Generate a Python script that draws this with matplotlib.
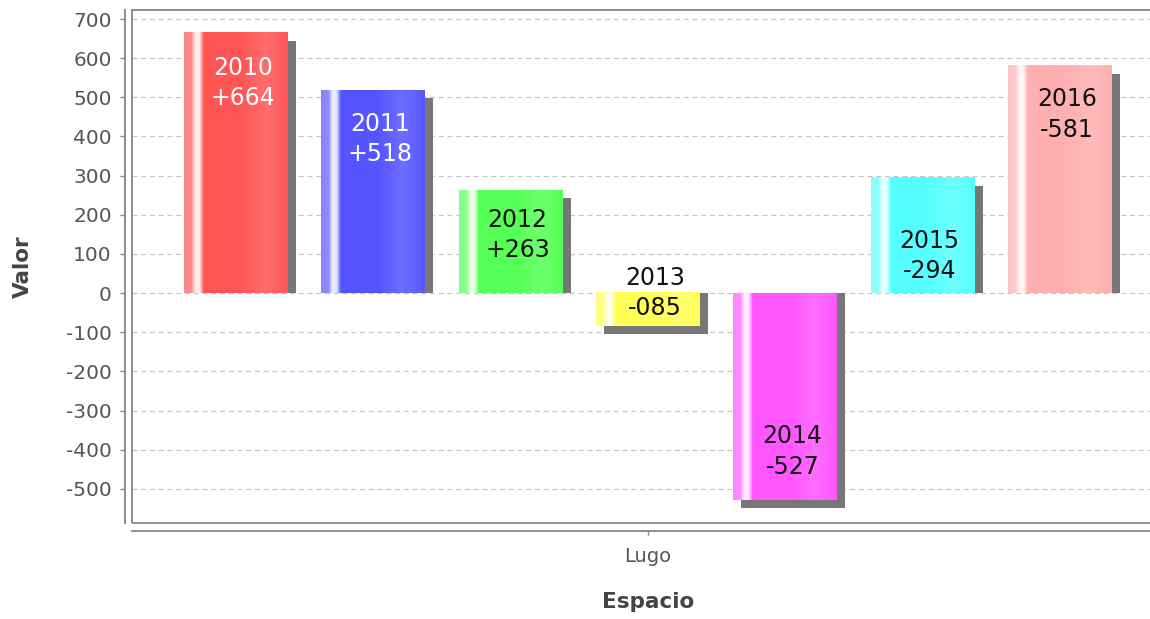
import numpy as np
import matplotlib
matplotlib.use("Agg")
import matplotlib.pyplot as plt
from matplotlib.colors import to_rgb
from matplotlib.patches import Rectangle
from matplotlib.transforms import ScaledTranslation

# ---------------- data ----------------
years = ["2010", "2011", "2012", "2013", "2014", "2015", "2016"]
values = [664, 518, 263, -85, -527, 294, 581]
value_labels = ["+664", "+518", "+263", "-085", "-527", "-294", "-581"]
category = "Lugo"
y_ticks = [-500, -400, -300, -200, -100, 0, 100, 200, 300, 400, 500, 600, 700]

# ---------------- style ----------------
bar_colors = ["#FF5555", "#5555FF", "#55FF55", "#FFFF55", "#FF55FF", "#55FFFF", "#FFAFAF"]
label_colors = ["white", "white", "#111111", "#111111", "#111111", "#111111", "#111111"]
label_inset_px = [50, 49, 45, None, 48, 78, 49]   # None -> centred on the base line

plt.rcParams["axes.unicode_minus"] = False
DPI = 100
W, H = 1150, 619
fig = plt.figure(figsize=(W / DPI, H / DPI), dpi=DPI)


def px_axes(l, t, r, b):
    return [l / W, 1 - b / H, (r - l) / W, (b - t) / H]


ax = fig.add_axes(px_axes(132, 10, 1164, 523))
n = len(values)
bar_w = 0.756
ax.set_xlim(-bar_w, n - 1 + bar_w)
ax.set_ylim(-587, 723)

# pixel -> data conversion for the shadow offset
y0, y1 = ax.get_ylim()
px_per_unit = ax.bbox.height / (y1 - y0)
shadow_px = 8
dy = shadow_px / px_per_unit
shadow_tr = ax.transData + ScaledTranslation(shadow_px / DPI, 0, fig.dpi_scale_trans)

# horizontal gradient profile (fraction of white mixed in)
stops_t = [0.0, 0.07, 0.11, 0.15, 0.19, 0.55, 0.78, 0.90, 1.0]
stops_w = [0.28, 0.32, 0.90, 0.85, 0.0, 0.0, 0.14, 0.08, 0.0]
tt = np.linspace(0, 1, 300)
wmix = np.interp(tt, stops_t, stops_w)[:, None]

for i, (v, c) in enumerate(zip(values, bar_colors)):
    x0 = i - bar_w / 2
    # shadow, pegged to the base
    if v >= 0:
        sy, sh = 0, v - dy
    else:
        sy, sh = v - dy, -(v - dy)
    ax.add_patch(Rectangle((x0, sy), bar_w, sh, transform=shadow_tr,
                           facecolor="#777777", edgecolor="none", zorder=2))
    rgb = np.array(to_rgb(c))
    img = (rgb[None, :] * (1 - wmix) + wmix)[None, :, :]
    ax.imshow(img, extent=[x0, x0 + bar_w, min(0, v), max(0, v)],
              aspect="auto", interpolation="bilinear", origin="lower", zorder=3)

ax.set_xlim(-bar_w, n - 1 + bar_w)
ax.set_ylim(-587, 723)

# labels
for i, (yr, v, lab, lc, inset) in enumerate(zip(years, values, value_labels,
                                                label_colors, label_inset_px)):
    if inset is None:
        yy, off = 0, 0
    else:
        yy, off = v, (-inset if v > 0 else inset)
    ax.annotate(f"{yr}\n{lab}", xy=(i, yy), xytext=(7 * 72 / DPI, off * 72 / DPI),
                textcoords="offset points", ha="center", va="center",
                fontsize=17, color=lc, linespacing=1.33, zorder=5,
                family="DejaVu Sans")

# axes styling
axis_col = "#858585"
for s in ["top", "right"]:
    ax.spines[s].set_visible(False)
ax.spines["left"].set_position(("outward", 7 * 72 / DPI))
ax.spines["bottom"].set_position(("outward", 8 * 72 / DPI))
for s in ["left", "bottom"]:
    ax.spines[s].set_color(axis_col)
    ax.spines[s].set_linewidth(1.3)
ax.add_patch(Rectangle((0, 0), 1.3, 1, transform=ax.transAxes, fill=False,
                       edgecolor=axis_col, linewidth=1.3, clip_on=False, zorder=6))

ax.set_yticks(y_ticks)
ax.set_xticks([(n - 1) / 2])
ax.set_xticklabels([category])
ax.tick_params(axis="y", length=5 * 0.72, width=1, color=axis_col, pad=6,
               labelsize=14.5, labelcolor="#555555")
ax.tick_params(axis="x", length=4 * 0.72, width=1, color=axis_col, pad=9,
               labelsize=14, labelcolor="#555555")
ax.yaxis.grid(True, linestyle=(0, (4, 3)), color="#c6c6c6", linewidth=0.9)
ax.set_axisbelow(True)

ax.set_ylabel("Valor", fontsize=15.5, fontweight="bold", color="#444444")
ax.yaxis.set_label_coords((33 - 132) / 1032, 0.5)
ax.set_xlabel("Espacio", fontsize=15.5, fontweight="bold", color="#444444")
ax.xaxis.set_label_coords(0.5, (523 - 592) / 513)

fig.savefig("out.png", dpi=DPI)
